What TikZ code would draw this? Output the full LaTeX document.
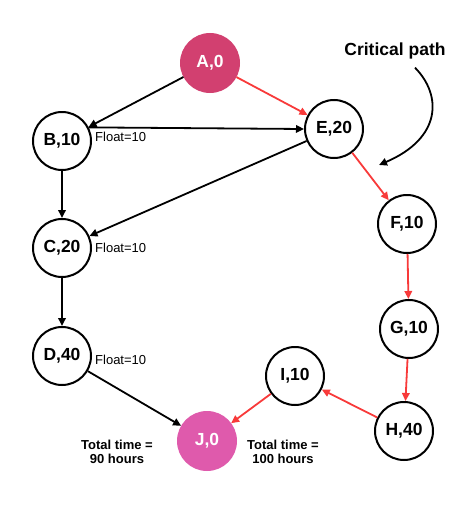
\documentclass[tikz,border=0pt]{standalone}
\usepackage{fontspec}
\setmainfont{Liberation Sans}
\usetikzlibrary{arrows.meta}

\definecolor{startpink}{RGB}{210,64,112}
\definecolor{endpink}{RGB}{223,90,172}
\definecolor{critred}{RGB}{248,58,58}

\begin{document}
\begin{tikzpicture}[
    x=1pt, y=-1pt,
    % Node styles
    event/.style={circle, draw=black, line width=2pt, fill=white, minimum size=58pt, inner sep=0pt, font=\fontsize{17.5}{20}\selectfont\bfseries},
    start-event/.style={event, draw=startpink, fill=startpink, text=white},
    end-event/.style={event, draw=endpink, fill=endpink, text=white},
    % Arrow styles
    normal/.style={-{Triangle[length=8pt, width=7.5pt]}, line width=1.8pt, black},
    critical/.style={-{Triangle[length=8pt, width=7.5pt]}, line width=1.8pt, critred},
    % Label styles
    float/.style={anchor=west, font=\fontsize{13}{14}\selectfont, inner sep=0pt},
    total/.style={align=center, font=\fontsize{13}{14.5}\selectfont\bfseries},
]

\useasboundingbox (0,0) rectangle (472,514);

% === EVENTS ===
\node[start-event] (A) at (210, 63) {A,0};
\node[event] (B) at (62, 141) {B,10};
\node[event] (E) at (334, 129) {E,20};
\node[event] (C) at (62, 248) {C,20};
\node[event] (F) at (407, 224) {F,10};
\node[event] (D) at (62, 356) {D,40};
\node[event] (G) at (409, 329) {G,10};
\node[event] (I) at (295, 376) {I,10};
\node[event] (H) at (404, 431) {H,40};
\node[end-event] (J) at (207, 441) {J,0};

% === NON-CRITICAL ACTIVITIES ===
\draw[normal] (A) -- (B);
\draw[normal] (B.27) -- (E.west);
\draw[normal] (E) -- (C);
\draw[normal] (B) -- (C);
\draw[normal] (C) -- (D);
\draw[normal] (D) -- (J);

% === CRITICAL PATH ===
\draw[critical] (A) -- (E);
\draw[critical] (E) -- (F);
\draw[critical] (F) -- (G);
\draw[critical] (G) -- (H);
\draw[critical] (H) -- (I);
\draw[critical] (I) -- (J);

% Floats
\node[float] (floatB) at (95, 137) {Float=10};
\node[float] (floatC) at (95, 248) {Float=10};
\node[float] (floatD) at (95, 360) {Float=10};

% Totals
\node[total] (total90) at (117, 452) {Total time =\\90 hours};
\node[total] (total100) at (283, 452) {Total time =\\100 hours};

% Annotation
\node[font=\fontsize{17.5}{20}\selectfont\bfseries] (crit) at (395, 51) {Critical path};
\coordinate (critEnd) at (379, 165);
\draw[normal] ([xshift=20pt, yshift=-5pt]crit.south) .. controls (442, 95) and (442, 138) .. (critEnd);

\end{tikzpicture}
\end{document}
